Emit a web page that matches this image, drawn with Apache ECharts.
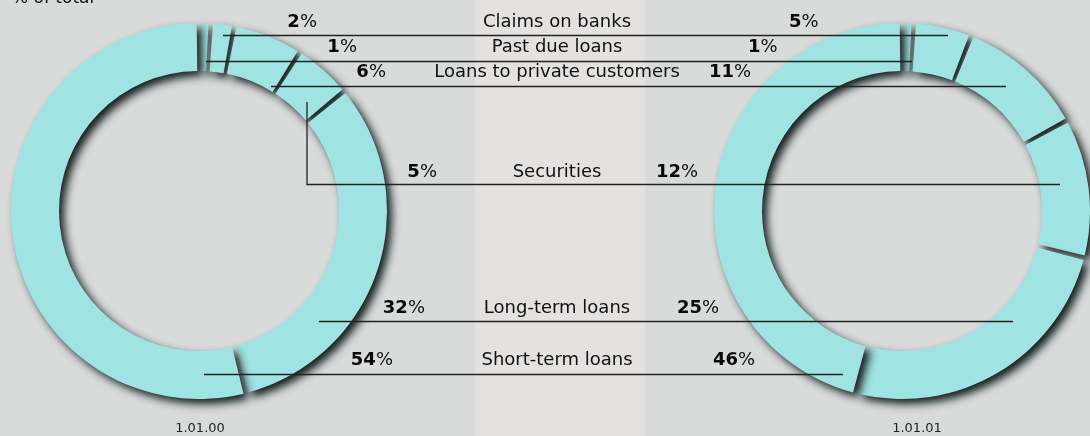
<!DOCTYPE html>
<html>
<head>
  <meta charset="utf-8" />
  <title>Assets structure</title>
  <script src="https://cdn.jsdelivr.net/npm/echarts@6/dist/echarts.min.js"></script>
  <style>
    html, body { margin: 0; padding: 0; }
  </style>
</head>
<body>
  <div id="main" style="width: 1090px;height:436px;"></div>
  <script type="text/javascript">
    // two rings, same categories, 1.01.00 vs 1.01.01
    var unitLabel = '% of total';
    var rowLabels = ['Claims on banks', 'Past due loans', 'Loans to private customers',
      'Securities', 'Long-term loans', 'Short-term loans'];
    var share2000 = [2, 1, 6, 5, 32, 54];
    var share2001 = [5, 1, 11, 12, 25, 46];
    var dateLabels = ['1.01.00', '1.01.01'];
    // ring order clockwise from 12 o'clock (indices into rowLabels)
    var ringOrder = [1, 0, 2, 3, 4, 5];

    // layout of the label rows and leader lines
    var rowY = [22, 47, 72.5, 172.5, 308, 360];
    var lineY = [35.5, 61.5, 86.5, 184.5, 321.5, 374.5];
    var lineX = [[223, 948], [206, 912], [271, 1006], [307, 1060], [319, 1013], [204, 843]];
    var leftValX = [317, 357, 386, 437, 425, 393];
    var rightValX = [789, 748, 709, 656, 677, 713];

    var font = 'DejaVu Sans';
    var ringColor = '#a0e3e3';

    var myChart = echarts.init(document.getElementById('main'));

    var pieData = function (values) {
      return ringOrder.map(function (i) {
        return { name: rowLabels[i], value: values[i] };
      });
    };

    var ringSeries = function (center, values) {
      return {
        type: 'pie',
        center: center,
        radius: [140, 188],
        startAngle: 90,
        clockwise: true,
        padAngle: 1.4,
        silent: true,
        label: { show: false },
        labelLine: { show: false },
        itemStyle: {
          color: ringColor,
          shadowBlur: 9,
          shadowOffsetX: 5,
          shadowOffsetY: 5,
          shadowColor: 'rgba(10,20,20,0.95)'
        },
        data: pieData(values)
      };
    };

    var pct = function (v, x, y, align) {
      return {
        type: 'text', z: 100, x: x, y: y,
        style: {
          text: '{b|' + v + '}{n|%}',
          align: align, verticalAlign: 'middle',
          fill: '#111', font: '18px "' + font + '"',
          rich: {
            b: { fontFamily: font, fontSize: 18, fontWeight: 'bold', fill: '#0a0a0a' },
            n: { fontFamily: font, fontSize: 18, fill: '#111' }
          }
        }
      };
    };

    var graphics = [
      // lighter middle column
      { type: 'rect', z: -10, shape: { x: 475, y: 0, width: 170, height: 436 }, style: { fill: '#e4e2e1' } },
      {
        type: 'text', z: 100, x: 12, y: -1,
        style: { text: unitLabel, fill: '#111', font: '17px "' + font + '"', verticalAlign: 'middle' }
      }
    ];

    rowLabels.forEach(function (name, i) {
      graphics.push({
        type: 'text', z: 100, x: 557, y: rowY[i],
        style: { text: name, align: 'center', verticalAlign: 'middle', fill: '#111', font: '18px "' + font + '"' }
      });
      graphics.push(pct(share2000[i], leftValX[i], rowY[i], 'right'));
      graphics.push(pct(share2001[i], rightValX[i], rowY[i], 'left'));
      var pts = [[lineX[i][0], lineY[i]], [lineX[i][1], lineY[i]]];
      if (name === 'Securities') {
        pts.unshift([lineX[i][0], 102]);
      }
      graphics.push({
        type: 'polyline', z: 100,
        shape: { points: pts },
        style: { stroke: '#222', lineWidth: 1.3, fill: null }
      });
    });

    graphics.push({
      type: 'text', z: 100, x: 200, y: 429,
      style: { text: dateLabels[0], align: 'center', verticalAlign: 'middle', fill: '#222', font: '13px "' + font + '"' }
    });
    graphics.push({
      type: 'text', z: 100, x: 917, y: 429,
      style: { text: dateLabels[1], align: 'center', verticalAlign: 'middle', fill: '#222', font: '13px "' + font + '"' }
    });

    var option = {
      backgroundColor: '#d9dbdb',
      animation: false,
      graphic: graphics,
      series: [
        ringSeries([199, 211], share2000),
        ringSeries([902, 211], share2001)
      ]
    };
    option && myChart.setOption(option);
  </script>
</body>
</html>
